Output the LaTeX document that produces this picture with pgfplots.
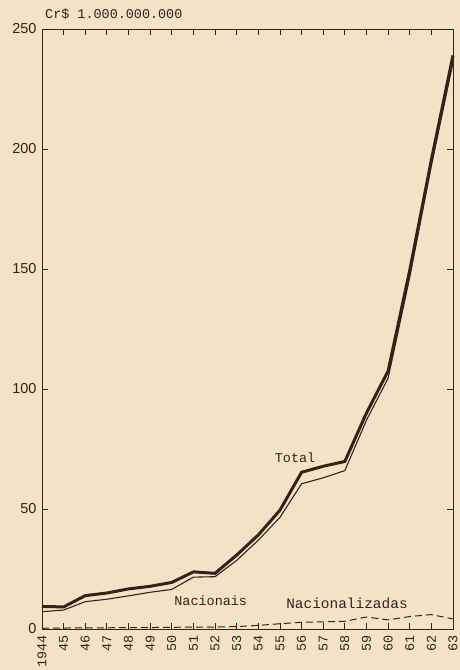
\documentclass[border=0pt]{standalone}
\usepackage{fontspec}
\setmainfont{Liberation Sans}
\setmonofont{Liberation Mono}
\usepackage{pgfplots}
\pgfplotsset{compat=1.18}
\definecolor{paper}{RGB}{243,226,198}
\definecolor{ink}{RGB}{48,36,26}
\begin{document}
\begin{tikzpicture}[x=1bp,y=1bp]
\useasboundingbox (-42bp,-41bp) rectangle (418bp,629bp);
\fill[paper] (-42bp,-41bp) rectangle (418bp,629bp);
\begin{axis}[
  at={(0,0)}, anchor=south west,
  scale only axis, width=411bp, height=600bp,
  xmin=1944, xmax=1963, ymin=0, ymax=250,
  xtick={1944,...,1963},
  xticklabels={1944,45,46,47,48,49,50,51,52,53,54,55,56,57,58,59,60,61,62,63},
  ytick={0,50,100,150,200,250},
  axis line style={ink, line width=0.9pt},
  tick style={ink, line width=0.8pt},
  major tick length=6bp,
  xticklabel style={rotate=90, anchor=east, font=\ttfamily\fontsize{13.5}{13.5}\selectfont, text=ink, xshift=-3bp},
  yticklabel style={font=\fontsize{14.5}{14.5}\selectfont, text=ink, xshift=-2bp},
  /pgf/number format/assume math mode=true,
  /pgf/number format/1000 sep={},
  clip=false,
]
% Nacionais (thin)
\addplot[ink, line width=1.1pt] coordinates {
(1944,7.2) (1945,7.9) (1946,11.4) (1947,12.4) (1948,13.8) (1949,15.3) (1950,16.5)
(1951,21.6) (1952,21.8) (1953,28.6) (1954,37.0) (1955,46.5) (1956,60.5) (1957,63.0)
(1958,66.0) (1959,87.0) (1960,104.5) (1961,146.5) (1962,193.0) (1963,236.0)};
% Total (thick)
\addplot[ink, line width=3pt] coordinates {
(1944,9.4) (1945,9.2) (1946,13.9) (1947,15.0) (1948,16.7) (1949,17.8) (1950,19.4)
(1951,23.8) (1952,23.2) (1953,30.8) (1954,39.2) (1955,49.5) (1956,65.3) (1957,67.8)
(1958,69.8) (1959,90.0) (1960,107.5) (1961,149.5) (1962,195.5) (1963,239.0)};
% Nacionalizadas (dashed)
\addplot[ink, line width=1pt, dash pattern=on 7bp off 4bp] coordinates {
(1944,0.3) (1945,0.4) (1946,0.5) (1947,0.5) (1948,0.6) (1949,0.6) (1950,0.7)
(1951,0.8) (1952,0.8) (1953,1.0) (1954,1.5) (1955,2.2) (1956,2.8) (1957,3.0)
(1958,3.2) (1959,5.0) (1960,3.8) (1961,5.2) (1962,6.0) (1963,4.2)};
\node[font=\ttfamily\fontsize{13.5}{13.5}\selectfont, text=ink] at (axis cs:1955.7,71.5) {Total};
\node[font=\ttfamily\fontsize{13.5}{13.5}\selectfont, text=ink] at (axis cs:1951.8,11.8) {Nacionais};
\node[font=\ttfamily\fontsize{14.5}{14.5}\selectfont, text=ink] at (axis cs:1958.1,10.8) {Nacionalizadas};
\node[font=\ttfamily\fontsize{13.5}{13.5}\selectfont, text=ink, anchor=south west, inner sep=0pt] at (rel axis cs:0,1) [xshift=3bp, yshift=9bp] {Cr\$ 1.000.000.000};
\end{axis}
\end{tikzpicture}
\end{document}
